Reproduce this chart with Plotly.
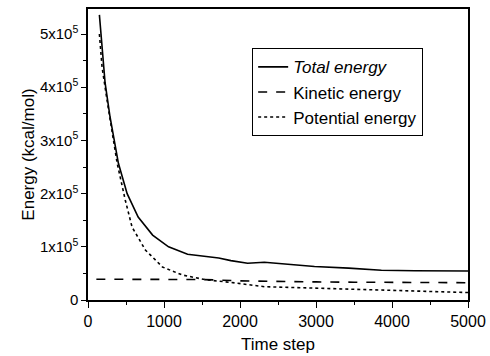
import plotly.graph_objects as go

# Time steps and energies (kcal/mol)
t_total = [150, 225, 290, 400, 515, 660, 850, 1060, 1310, 1500, 1720, 1880, 2100, 2320, 2560, 2770, 2980, 3430, 3860, 4300, 4960, 5000]
e_total = [5.36e5, 4.08e5, 3.44e5, 2.57e5, 2.0e5, 1.56e5, 1.22e5, 1.0e5, 0.86e5, 0.83e5, 0.79e5, 0.74e5, 0.69e5, 0.71e5, 0.68e5, 0.66e5, 0.63e5, 0.60e5, 0.56e5, 0.55e5, 0.545e5, 0.545e5]

t_kin = [110, 500, 1000, 1500, 2000, 2500, 3000, 3500, 4000, 4500, 5000]
e_kin = [0.39e5, 0.39e5, 0.39e5, 0.385e5, 0.36e5, 0.345e5, 0.34e5, 0.335e5, 0.33e5, 0.325e5, 0.325e5]

t_pot = [150, 185, 250, 317, 384, 490, 580, 755, 980, 1240, 1550, 1880, 2000, 2320, 2570, 3000, 3500, 4000, 4500, 5000]
e_pot = [5.0e5, 4.38e5, 3.76e5, 3.14e5, 2.57e5, 1.88e5, 1.37e5, 0.94e5, 0.62e5, 0.47e5, 0.38e5, 0.33e5, 0.31e5, 0.25e5, 0.24e5, 0.22e5, 0.20e5, 0.18e5, 0.16e5, 0.14e5]

ytick_vals = [0, 1e5, 2e5, 3e5, 4e5, 5e5]
ytick_text = ["0", "1x10<sup>5</sup>", "2x10<sup>5</sup>", "3x10<sup>5</sup>", "4x10<sup>5</sup>", "5x10<sup>5</sup>"]
xtick_vals = [0, 1000, 2000, 3000, 4000, 5000]

FONT = "Liberation Sans, Arial, sans-serif"

fig = go.Figure()
fig.add_trace(go.Scatter(x=t_total, y=e_total, mode="lines", name="<i>Total energy</i>",
                         line=dict(color="black", width=1.6, dash="solid")))
fig.add_trace(go.Scatter(x=t_kin, y=e_kin, mode="lines", name="Kinetic energy",
                         line=dict(color="black", width=1.6, dash="dash")))
fig.add_trace(go.Scatter(x=t_pot, y=e_pot, mode="lines", name="Potential energy",
                         line=dict(color="black", width=1.6, dash="dot")))

fig.update_layout(
    width=490, height=356,
    margin=dict(l=88, r=22, t=9, b=56),
    paper_bgcolor="white", plot_bgcolor="white",
    font=dict(family=FONT, color="black", size=15),
    showlegend=True,
    legend=dict(x=0.432, y=0.865, xanchor="left", yanchor="top",
                bordercolor="black", borderwidth=1, bgcolor="white",
                font=dict(family=FONT, size=17, color="black"),
                tracegroupgap=0),
)
fig.update_xaxes(
    range=[0, 5000], tickvals=xtick_vals, ticks="outside", ticklen=6, tickwidth=1.2,
    tickcolor="black", showline=True, linecolor="black", linewidth=1.5, mirror=True,
    showgrid=False, zeroline=False, automargin=False,
    minor=dict(tickvals=[500, 1500, 2500, 3500, 4500], ticks="outside", ticklen=3, tickcolor="black"),
    title=dict(text="Time step", font=dict(size=17), standoff=9),
    tickfont=dict(size=16),
)
fig.update_yaxes(
    range=[0, 5.47e5], tickvals=ytick_vals, ticktext=ytick_text, ticks="outside", ticklen=5,
    tickwidth=1.2, tickcolor="black", showline=True, linecolor="black", linewidth=1.5, mirror=True,
    showgrid=False, zeroline=False, automargin=False,
    minor=dict(tickvals=[0.5e5, 1.5e5, 2.5e5, 3.5e5, 4.5e5], ticks="outside", ticklen=3, tickcolor="black"),
    title=dict(text="Energy (kcal/mol)", font=dict(size=17), standoff=1),
    tickfont=dict(size=15),
)

fig.write_html("out.html")
